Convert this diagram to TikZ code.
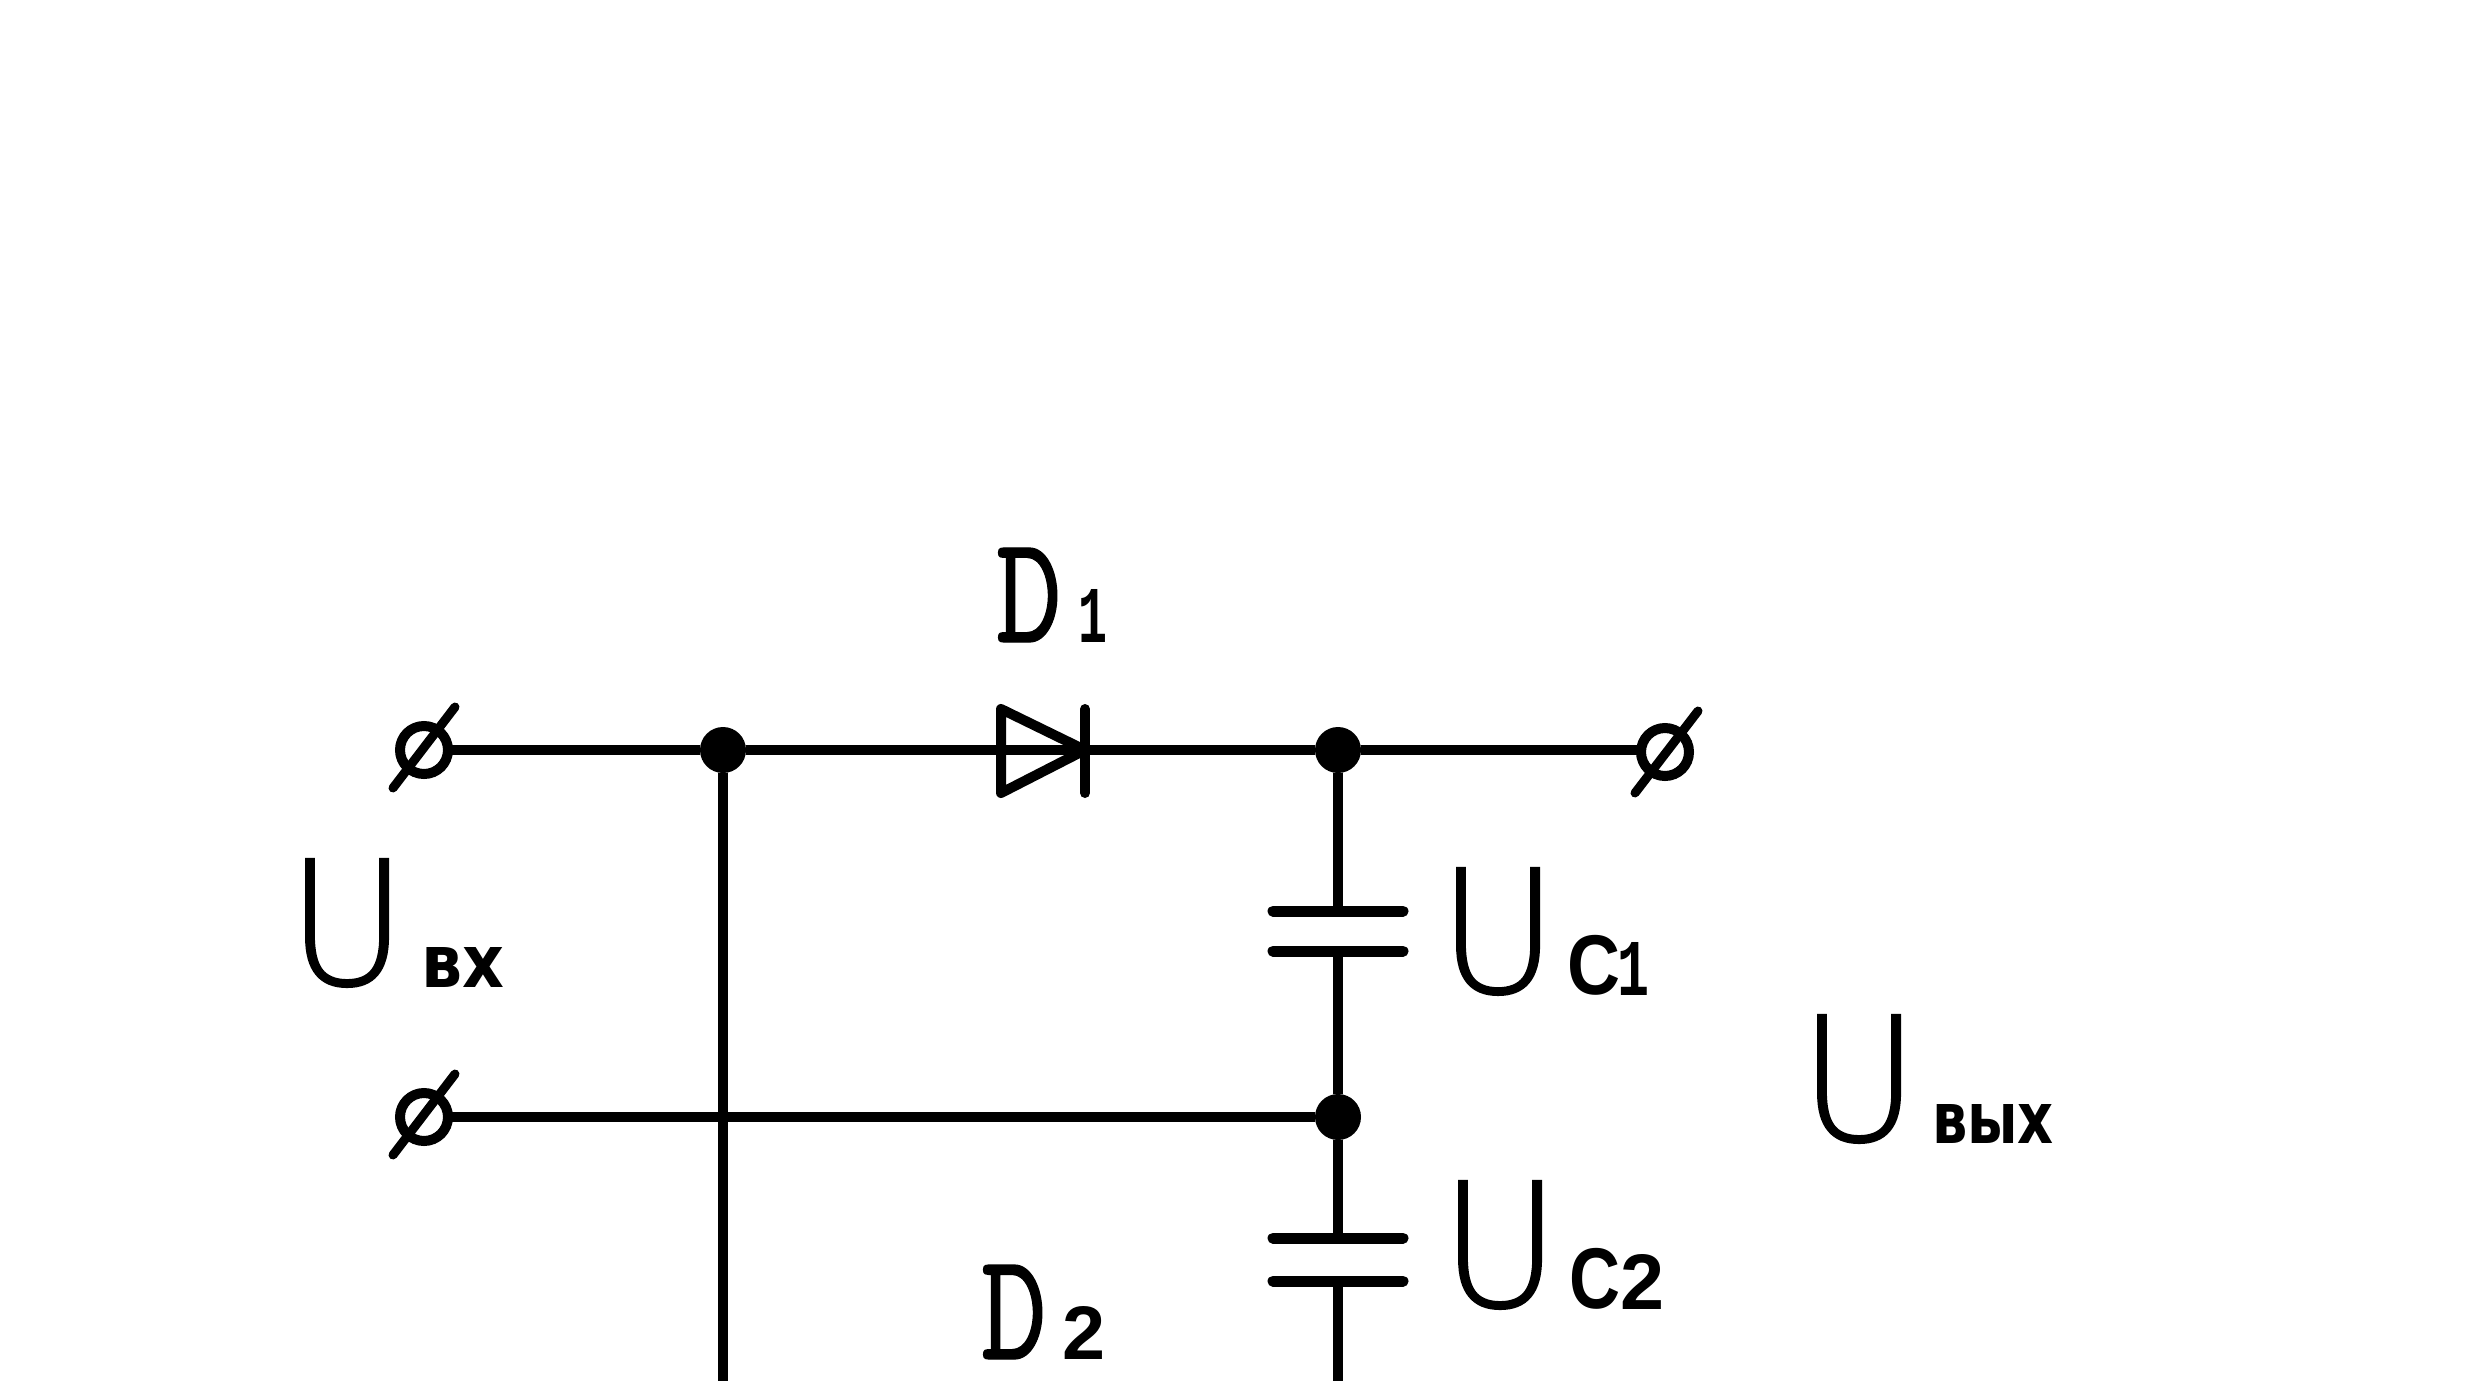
\documentclass[tikz,border=0pt]{standalone}
\usepackage{fontspec}
\usepackage{graphicx}
\newfontfamily\ulight[FakeBold=1.2]{DejaVu Sans ExtraLight}
\newfontfamily\subbold{DejaVu Sans Bold}
\newfontfamily\submono{Liberation Mono Bold}
\newfontfamily\subsans{Liberation Sans Bold}
\newfontfamily\dfont[FakeBold=0.8]{Latin Modern Mono}
\newcommand{\fitlabel}[6]{% name x0 y0 x1 y1 text
  \node[anchor=south west,inner sep=0pt,outer sep=0pt] (#1) at (#2,#5) {\resizebox*{\numexpr#4-#2\relax pt}{\numexpr#5-#3\relax pt}{#6}};}
\tikzset{
  wire/.style={line width=10.5pt},
  sym/.style={line width=10pt,line cap=round,line join=round},
  junction/.style={circle,fill=black,inner sep=0pt,outer sep=0pt,minimum size=46pt},
  terminal/.style={circle,draw=black,line width=10pt,inner sep=0pt,outer sep=0pt,minimum size=48pt},
}
\begin{document}
\begin{tikzpicture}[x=1pt,y=-1pt]
\useasboundingbox (0,0) rectangle (2473,1381);
% nodes
\node[terminal] (t1) at (424,750) {};
\node[terminal] (t2) at (424,1117) {};
\node[terminal] (t3) at (1665,752) {};
\node[junction] (j1) at (723,750) {};
\node[junction] (j2) at (1338,750) {};
\node[junction] (j3) at (1338,1117) {};
\coordinate (k1) at (1085,750);
\coordinate (p1) at (1338,911);
\coordinate (p2) at (1338,951);
\coordinate (p3) at (1338,1238);
\coordinate (p4) at (1338,1281);
\coordinate (e1) at (723,1381);
\coordinate (e2) at (1338,1381);
% wires
\draw[wire] (t1) -- (j1);
\draw[wire] (j1) -- (j2);
\draw[wire] (j2) -- (j2 -| t3.west);
\draw[wire] (t2) -- (j3);
\draw[wire] (j1) -- (e1);
\draw[wire] (j2) -- (p1);
\draw[wire] (p2) -- (j3);
\draw[wire] (j3) -- (p3);
\draw[wire] (p4) -- (e2);
% terminal slashes
\draw[sym,line width=9pt] (455,707) -- (393,788);
\draw[sym,line width=9pt] (455,1074) -- (393,1155);
\draw[sym,line width=9pt] (1698,711) -- (1635,793);
% diode
\draw[sym] (1001,709) -- (k1) -- (1001,793) -- cycle;
\draw[sym] (1085,709) -- (k1) -- (1085,793);
% capacitors
\draw[sym,line width=11pt] (1273,911) -- (p1) -- (1403,911);
\draw[sym,line width=11pt] (1273,951) -- (p2) -- (1403,951);
\draw[sym,line width=11pt] (1273,1238) -- (p3) -- (1403,1238);
\draw[sym,line width=11pt] (1273,1281) -- (p4) -- (1403,1281);
% labels
\fitlabel{d1}{996}{548}{1062}{642}{\dfont D}
\fitlabel{d1s}{1078}{589}{1107}{642}{\submono 1}
\fitlabel{d2}{981}{1265}{1047}{1359}{\dfont D}
\fitlabel{d2s}{1062}{1306}{1105}{1359}{\subsans 2}
\fitlabel{u1}{288}{859}{406}{987}{\ulight U}
\fitlabel{u1s}{421}{947}{504}{987}{\subbold вх}
\fitlabel{u2}{1439}{868}{1557}{995}{\ulight U}
\fitlabel{u2s}{1567}{935}{1620}{995}{\subsans C}
\fitlabel{u2t}{1617}{942}{1649}{995}{\submono 1}
\fitlabel{u3}{1441}{1181}{1559}{1309}{\ulight U}
\fitlabel{u3s}{1569}{1248}{1620}{1309}{\subsans C}
\fitlabel{u3t}{1620}{1254}{1664}{1309}{\subsans 2}
\fitlabel{u4}{1800}{1015}{1918}{1143}{\ulight U}
\fitlabel{u4s}{1932}{1104}{2054}{1143}{\subbold вых}
\end{tikzpicture}
\end{document}
